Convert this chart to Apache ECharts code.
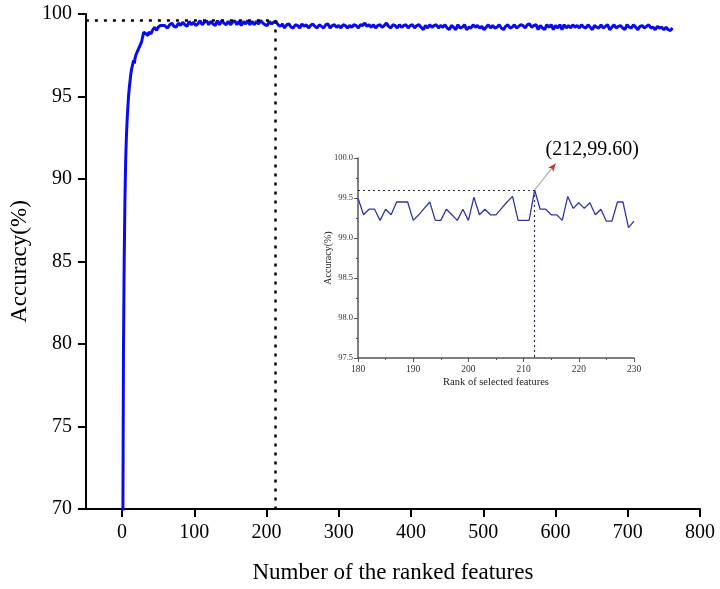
<!DOCTYPE html>
<html>
<head>
<meta charset="utf-8">
<script src="https://cdn.jsdelivr.net/npm/echarts@6/dist/echarts.min.js"></script>
<style>
  html, body { margin: 0; padding: 0; background: #fff; }
  #contain { width: 720px; height: 589px; }
</style>
</head>
<body>
<div id="contain"></div>
<script>
// main curve: accuracy for ranks 1..60, read one by one (rank 1 sits below the 70 floor)
var riseAcc = [67.0, 79.5, 85.0, 88.6, 91.0, 92.5, 93.5, 94.3, 95.0, 95.5,
               95.9, 96.3, 96.6, 96.8, 97.0, 97.2, 97.0, 97.3, 97.5, 97.6,
               97.7, 97.6, 97.9, 98.0, 98.1, 98.1, 98.3, 98.5, 98.7, 98.9,
               99.0, 98.9, 98.8, 98.9, 98.8, 98.7, 98.9, 98.8, 98.9, 98.8,
               98.9, 99.0, 99.1, 99.0, 99.2, 99.1, 99.2, 99.0, 99.1, 99.2,
               99.3, 99.2, 99.3, 99.2, 99.4, 99.3, 99.2, 99.3, 99.3, 99.2];
// plateau: every 3rd rank from 63 on
var plateauStart = 63;
var plateauStep = 3;
var plateauAcc = [
  99.15, 99.35, 99.45, 99.25, 99.2, 99.45, 99.3, 99.5, 99.35, 99.25,
  99.55, 99.35, 99.5, 99.3, 99.4, 99.6, 99.35, 99.5, 99.6, 99.35,
  99.55, 99.4, 99.3, 99.6, 99.35, 99.6, 99.45, 99.35, 99.55, 99.35,
  99.5, 99.6, 99.35, 99.55, 99.3, 99.55, 99.4, 99.6, 99.35, 99.55,
  99.35, 99.55, 99.4, 99.6, 99.45, 99.35, 99.3, 99.55, 99.4, 99.5,
  99.55, 99.35, 99.25, 99.4, 99.15, 99.35, 99.4, 99.2, 99.15, 99.35,
  99.3, 99.15, 99.4, 99.25, 99.35, 99.15, 99.3, 99.4, 99.25, 99.15,
  99.35, 99.25, 99.15, 99.35, 99.4, 99.15, 99.3, 99.35, 99.2, 99.3,
  99.15, 99.35, 99.3, 99.15, 99.3, 99.2, 99.35, 99.3, 99.15, 99.35,
  99.3, 99.45, 99.25, 99.35, 99.2, 99.35, 99.15, 99.3, 99.35, 99.2,
  99.3, 99.45, 99.25, 99.15, 99.35, 99.3, 99.15, 99.35, 99.2, 99.3,
  99.35, 99.15, 99.3, 99.35, 99.15, 99.3, 99.35, 99.2, 99.05, 99.3,
  99.15, 99.35, 99.2, 99.3, 99.35, 99.15, 99.3, 99.2, 99.35, 99.15,
  99.05, 99.3, 99.2, 99.05, 99.35, 99.15, 99.2, 99.35, 99.05, 99.2,
  99.15, 99.35, 99.2, 99.3, 99.15, 99.25, 99.05, 99.2, 99.35, 99.15,
  99.3, 99.15, 99.2, 99.35, 99.15, 99.05, 99.25, 99.35, 99.15, 99.2,
  99.35, 99.15, 99.25, 99.35, 99.3, 99.15, 99.35, 99.4, 99.2, 99.3,
  99.35, 99.05, 99.3, 99.15, 99.05, 99.35, 99.2, 99.35, 99.05, 99.3,
  99.15, 99.35, 99.05, 99.35, 99.15, 99.3, 99.15, 99.35, 99.2, 99.3,
  99.15, 99.35, 99.2, 99.15, 99.35, 99.2, 99.05, 99.3, 99.2, 99.15,
  99.35, 99.15, 99.25, 99.35, 99.05, 99.2, 99.35, 99.15, 99.25, 99.3,
  99.15, 99.05, 99.35, 99.2, 99.15, 99.35, 99.2, 99.05, 99.25, 99.3,
  99.15, 99.25, 99.35, 99.15, 99.2, 99.05, 99.25, 99.15, 99.2, 99.05,
  99.2, 99.05, 99.0, 99.15];

// inset: ranks 180..230
var insetStart = 180;
var insetAcc = [99.50, 99.29, 99.36, 99.36, 99.22, 99.36, 99.29, 99.45, 99.45, 99.45,
                99.22, 99.29, 99.37, 99.45, 99.22, 99.22, 99.36, 99.29, 99.22, 99.36,
                99.22, 99.51, 99.29, 99.36, 99.29, 99.29, 99.37, 99.45, 99.52, 99.22,
                99.22, 99.22, 99.60, 99.36, 99.36, 99.29, 99.29, 99.22, 99.52, 99.37,
                99.44, 99.37, 99.44, 99.29, 99.36, 99.21, 99.21, 99.45, 99.45, 99.13,
                99.21];

var bestRank = 212;
var bestAcc = 99.6;
var xTicks = [0, 100, 200, 300, 400, 500, 600, 700, 800];

var mainData = [];
riseAcc.forEach(function (v, i) { mainData.push([i + 1, v]); });
plateauAcc.forEach(function (v, i) { mainData.push([plateauStart + plateauStep * i, v]); });
var insetData = insetAcc.map(function (v, i) { return [insetStart + i, v]; });

var serif = 'Liberation Serif';
var myChart = echarts.init(document.getElementById('contain'));

var option = {
    animation: false,
    grid: [
        { left: 83, right: 20, top: 14, bottom: 78 },
        { left: 358, right: 86, top: 158, bottom: 231 }
    ],
    xAxis: [
        {
            gridIndex: 0,
            type: 'value',
            min: -50,
            max: 800,
            name: 'Number of the ranked features',
            nameLocation: 'middle',
            nameGap: 52,
            nameTextStyle: { fontFamily: serif, fontSize: 23, color: '#000' },
            axisLine: { onZero: false, lineStyle: { color: '#000', width: 2 } },
            axisTick: { customValues: xTicks, length: 8, lineStyle: { color: '#000', width: 2 } },
            axisLabel: { customValues: xTicks, margin: 14, fontFamily: serif, fontSize: 20, color: '#000' },
            splitLine: { show: false }
        },
        {
            gridIndex: 1,
            type: 'value',
            min: 180,
            max: 230,
            interval: 10,
            name: 'Rank of selected features',
            nameLocation: 'middle',
            nameGap: 19,
            nameTextStyle: { fontFamily: serif, fontSize: 10.5, color: '#222' },
            axisLine: { onZero: false, lineStyle: { color: '#555', width: 1.5 } },
            axisTick: { length: 4, lineStyle: { color: '#555' } },
            minorTick: { show: true, splitNumber: 2, length: 2, lineStyle: { color: '#555' } },
            axisLabel: { margin: 6, fontFamily: serif, fontSize: 9.5, color: '#333' },
            splitLine: { show: false }
        }
    ],
    yAxis: [
        {
            gridIndex: 0,
            type: 'value',
            min: 70,
            max: 100,
            interval: 5,
            name: 'Accuracy(%)',
            nameLocation: 'middle',
            nameGap: 47,
            nameTextStyle: { fontFamily: serif, fontSize: 23, color: '#000' },
            axisLine: { show: true, onZero: false, lineStyle: { color: '#000', width: 2 } },
            axisTick: { show: true, length: 8, lineStyle: { color: '#000', width: 2 } },
            axisLabel: { margin: 14, fontFamily: serif, fontSize: 20, color: '#000' },
            splitLine: { show: false }
        },
        {
            gridIndex: 1,
            type: 'value',
            min: 97.5,
            max: 100,
            interval: 0.5,
            name: 'Accuracy(%)',
            nameLocation: 'middle',
            nameGap: 25,
            nameMoveOverlap: false,
            nameTextStyle: { fontFamily: serif, fontSize: 10, color: '#222' },
            axisLine: { show: true, onZero: false, lineStyle: { color: '#555', width: 1.5 } },
            axisTick: { show: true, length: 4, lineStyle: { color: '#555' } },
            minorTick: { show: true, splitNumber: 2, length: 2, lineStyle: { color: '#555' } },
            axisLabel: {
                margin: 5, fontFamily: serif, fontSize: 8.5, color: '#333',
                formatter: function (v) { return v.toFixed(1); }
            },
            splitLine: { show: false }
        }
    ],
    series: [
        {
            name: 'main',
            type: 'line',
            xAxisIndex: 0,
            yAxisIndex: 0,
            data: mainData,
            showSymbol: false,
            clip: true,
            lineStyle: { color: '#0a0aee', width: 3 },
            markLine: {
                silent: true,
                symbol: ['none', 'none'],
                label: { show: false },
                lineStyle: { color: '#000', width: 2.5, type: [3, 6] },
                data: [
                    [{ coord: [-50, bestAcc] }, { coord: [bestRank, bestAcc] }],
                    [{ coord: [bestRank, bestAcc] }, { coord: [bestRank, 70] }]
                ]
            }
        },
        {
            name: 'inset',
            type: 'line',
            xAxisIndex: 1,
            yAxisIndex: 1,
            data: insetData,
            showSymbol: false,
            lineStyle: { color: '#3535a8', width: 1.3 },
            markLine: {
                silent: true,
                symbol: ['none', 'none'],
                label: { show: false },
                lineStyle: { color: '#2a2a66', width: 1.2, type: [2, 3] },
                data: [
                    [{ coord: [insetStart, bestAcc] }, { coord: [bestRank, bestAcc] }],
                    [{ coord: [bestRank, bestAcc] }, { coord: [bestRank, 97.5] }],
                    [{ coord: [bestRank, bestAcc], lineStyle: { color: '#aaa', width: 1.2, type: 'solid' } },
                     { coord: [215.8, 99.93] }]
                ]
            },
            markPoint: {
                silent: true,
                data: [
                    {
                        coord: [215.8, 99.93],
                        symbol: 'arrow',
                        symbolSize: [5, 8],
                        symbolRotate: -38,
                        itemStyle: { color: '#d03030' },
                        label: { show: false }
                    },
                    {
                        coord: [215.8, 99.93],
                        symbol: 'circle',
                        symbolSize: 0,
                        label: {
                            show: true,
                            formatter: '(' + bestRank + ',' + bestAcc.toFixed(2) + ')',
                            position: [-10, -24],
                            fontFamily: serif,
                            fontSize: 20,
                            color: '#000'
                        }
                    }
                ]
            }
        }
    ]
};

myChart.setOption(option);
</script>
</body>
</html>
